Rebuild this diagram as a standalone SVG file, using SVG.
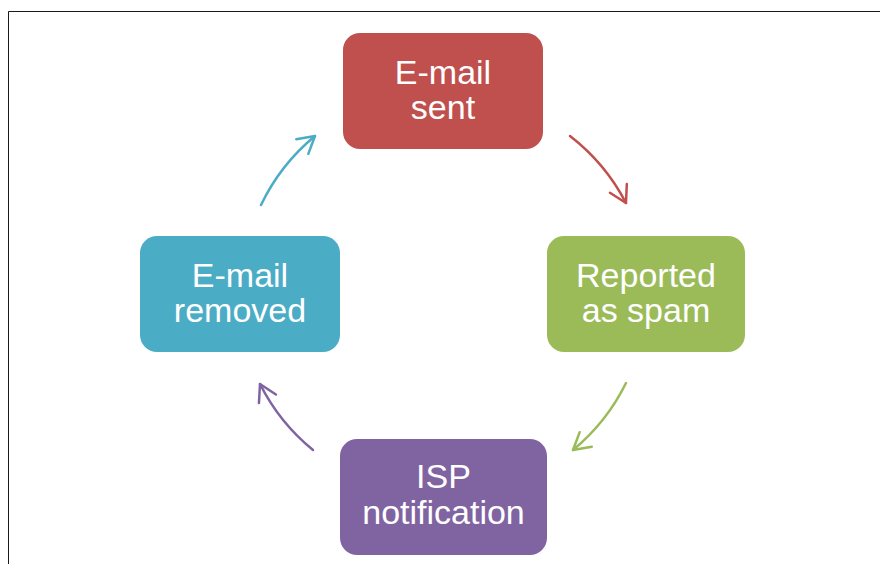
<svg xmlns="http://www.w3.org/2000/svg" width="880" height="564" viewBox="0 0 880 564">
  <style>
    .box text { font-family: "Liberation Sans", Arial, sans-serif; font-size: 34px; fill: #FFFFFF; text-anchor: middle; }
    .conn path { fill: none; stroke-width: 2.5; stroke-linecap: round; }
    .frame { fill: none; stroke: #1a1a1a; stroke-width: 1; }
  </style>
  <defs>
    <marker id="head-red" markerUnits="userSpaceOnUse" markerWidth="40" markerHeight="40" viewBox="-20 -20 40 40" refX="0" refY="0" orient="auto">
      <path d="M-16.5,-9.5 L0,0 L-16.5,9.5" fill="none" stroke="#C0504D" stroke-width="2.5" stroke-linecap="round" stroke-linejoin="round"/>
    </marker>
    <marker id="head-green" markerUnits="userSpaceOnUse" markerWidth="40" markerHeight="40" viewBox="-20 -20 40 40" refX="0" refY="0" orient="auto">
      <path d="M-16.5,-9.5 L0,0 L-16.5,9.5" fill="none" stroke="#9BBB59" stroke-width="2.5" stroke-linecap="round" stroke-linejoin="round"/>
    </marker>
    <marker id="head-purple" markerUnits="userSpaceOnUse" markerWidth="40" markerHeight="40" viewBox="-20 -20 40 40" refX="0" refY="0" orient="auto">
      <path d="M-16.5,-9.5 L0,0 L-16.5,9.5" fill="none" stroke="#8064A2" stroke-width="2.5" stroke-linecap="round" stroke-linejoin="round"/>
    </marker>
    <marker id="head-blue" markerUnits="userSpaceOnUse" markerWidth="40" markerHeight="40" viewBox="-20 -20 40 40" refX="0" refY="0" orient="auto">
      <path d="M-16.5,-9.5 L0,0 L-16.5,9.5" fill="none" stroke="#4BACC6" stroke-width="2.5" stroke-linecap="round" stroke-linejoin="round"/>
    </marker>
  </defs>

  <rect width="880" height="564" fill="#FFFFFF"/>
  <!-- slide frame: top and left edges -->
  <path class="frame" d="M8.5,564 L8.5,11.5 L880,11.5"/>

  <!-- cycle arrows on a circle centred at (443,294) -->
  <g id="connectors" class="conn">
    <path d="M570,136 A203,203 0 0 1 626,203" stroke="#C0504D" marker-end="url(#head-red)"/>
    <path d="M626,383 A203,203 0 0 1 573,450" stroke="#9BBB59" marker-end="url(#head-green)"/>
    <path d="M313,450 A203,203 0 0 1 260,384" stroke="#8064A2" marker-end="url(#head-purple)"/>
    <path d="M261,205 A203,203 0 0 1 315,136" stroke="#4BACC6" marker-end="url(#head-blue)"/>
  </g>

  <g id="email-sent" class="box">
    <rect x="343" y="33" width="200" height="116" rx="17" fill="#C0504D"/>
    <text x="443" y="84">E-mail</text>
    <text x="443" y="119">sent</text>
  </g>

  <g id="reported-as-spam" class="box">
    <rect x="547" y="236" width="198" height="116" rx="17" fill="#9BBB59"/>
    <text x="646" y="287">Reported</text>
    <text x="646" y="322">as spam</text>
  </g>

  <g id="isp-notification" class="box">
    <rect x="340" y="439" width="207" height="116" rx="17" fill="#8064A2"/>
    <text x="443.5" y="488">ISP</text>
    <text x="443.5" y="524">notification</text>
  </g>

  <g id="email-removed" class="box">
    <rect x="140" y="236" width="200" height="116" rx="17" fill="#4BACC6"/>
    <text x="240" y="287">E-mail</text>
    <text x="240" y="322">removed</text>
  </g>
</svg>
